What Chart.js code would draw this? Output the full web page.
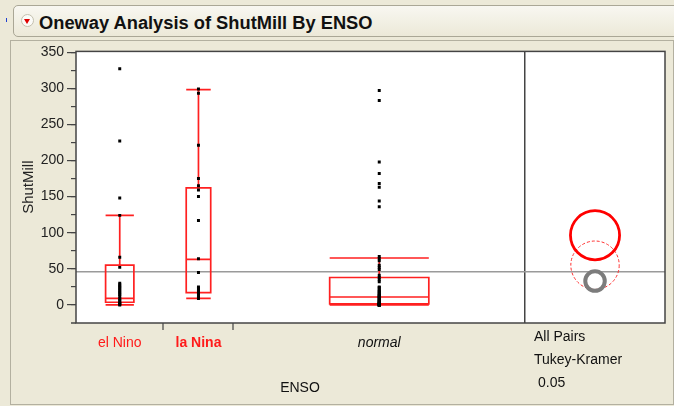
<!DOCTYPE html>
<html>
<head>
<meta charset="utf-8">
<script src="https://cdn.jsdelivr.net/npm/chart.js@4.4.1/dist/chart.umd.min.js"></script>
<style>
  body {
    margin: 0;
    width: 674px;
    height: 406px;
    overflow: hidden;
    position: relative;
    background: #ece9d8;
    font-family: "Liberation Sans", Arial, sans-serif;
    color: #111;
  }
  .abs { position: absolute; }
  #header {
    left: 13px; top: 5px; width: 700px; height: 30px;
    border: 1px solid #aaa796; border-radius: 5px;
    background: linear-gradient(#f8f7f1, #ece9d8);
  }
  #icon {
    left: 21px; top: 14px; width: 11px; height: 11px;
    border: 1px solid #c4c0ae; border-radius: 50%; background: #fbfbf8;
  }
  #icon::after {
    content: ""; position: absolute; left: 2px; top: 4px;
    border-left: 3.5px solid transparent; border-right: 3.5px solid transparent;
    border-top: 5px solid #e00000;
  }
  #blue { left: 6px; top: 18px; width: 1px; height: 4px; background: #2040d0; }
  #title { left: 39px; top: 13px; font-size: 18.3px; font-weight: bold; line-height: 20px; white-space: nowrap; }
  #panel {
    left: 10px; top: 40px; width: 662px; height: 363px;
    border: 1px solid #b3b0a0;
  }
  #wrap { left: 0; top: 40px; width: 674px; height: 366px; }
  .lbl { font-size: 14px; line-height: 16px; white-space: nowrap; }
</style>
</head>
<body>
<div id="header" class="abs"></div>
<div id="blue" class="abs"></div>
<div id="icon" class="abs"></div>
<div id="title" class="abs">Oneway Analysis of ShutMill By ENSO</div>
<div id="panel" class="abs"></div>
<div id="wrap" class="abs"><canvas id="chart"></canvas></div>
<div class="abs lbl" style="left:300px; top:379px; transform:translateX(-50%);">ENSO</div>
<div class="abs lbl" style="left:534px; top:328px;">All Pairs</div>
<div class="abs lbl" style="left:534px; top:351px;">Tukey-Kramer</div>
<div class="abs lbl" style="left:538px; top:374px;">0.05</div>
<script>
const groups = ['el Nino', 'la Nina', 'normal'];
const groupN = [15, 12, 50];

const elNino = [0, 1, 2, 3, 5, 7, 9, 12, 14, 16, 18, 20, 22, 24, 26, 28, 30, 52, 66, 124, 148, 227, 327];
const laNina = [9, 11, 13, 15, 17, 19, 21, 23, 25, 45, 64, 117, 150, 159, 165, 175, 221, 293, 299];
const normal = [297, 283, 198, 182, 168, 163, 144, 136, 67, 64, 61, 55, 52, 49, 41, 38, 35, 32,
    25, 24, 22, 20, 19, 18, 16, 15, 14, 13, 12, 11, 11, 10, 9, 8, 7, 6, 5, 5, 4, 3, 3, 2, 2,
    1, 1, 1, 0, 0, 0, 0, 0, 0];

// quantile boxes
const whiskerLow = [0, 9, 0];
const boxQ1 = [3.7, 17, 1.4];
const boxMedian = [9, 63, 11];
const boxQ3 = [55, 162, 38];
const whiskerHigh = [124, 298, 65];

// comparison circles (Tukey-Kramer)
const circleMeans = [55, 96.5, 33];
const circleRadii = [33.5, 34, 13.5];

const grandMean = 46;

const yTicks = [0, 50, 100, 150, 200, 250, 300, 350];
const yMinorTicks = [0, 25, 50, 75, 100, 125, 150, 175, 200, 225, 250, 275, 300, 325, 350];

// layout / style
const comparePanel = 24;
const boxWidth = [4.85, 4.2, 17];
const labelColors = ['#ff1a1a', '#ff1a1a', '#111'];
const circleStyles = [
    {color: '#ff3030', width: 1, dash: [3, 2]},
    {color: '#ff0000', width: 2.8, dash: []},
    {color: '#7c7c7c', width: 4, dash: []},
];
const FONT = '"Liberation Sans", Arial, sans-serif';

let bounds = [0];
groupN.forEach(n => bounds.push(bounds[bounds.length - 1] + n));
const xEnd = bounds[groupN.length] + comparePanel;
const centers = groupN.map((n, i) => bounds[i] + n / 2);
const compareX = bounds[groupN.length] + comparePanel / 2;

const jmpPlot = {
    id: 'jmpPlot',
    beforeDraw(chart) {
        const {ctx, chartArea: a} = chart;
        ctx.save();
        ctx.fillStyle = '#fff';
        ctx.fillRect(a.left, a.top, a.width, a.height);
        ctx.restore();
    },
    beforeDatasetsDraw(chart) {
        const {ctx, chartArea: a} = chart;
        const x = chart.scales.x, y = chart.scales.y;
        const py = v => y.getPixelForValue(v);
        ctx.save();
        // grand mean line
        ctx.strokeStyle = '#9a9a9a';
        ctx.lineWidth = 1.5;
        ctx.beginPath();
        ctx.moveTo(a.left, py(grandMean));
        ctx.lineTo(a.right, py(grandMean));
        ctx.stroke();
        // boxes
        ctx.strokeStyle = '#ff2020';
        ctx.lineWidth = 1.7;
        groups.forEach((g, i) => {
            const l = x.getPixelForValue(centers[i] - boxWidth[i] / 2);
            const r = x.getPixelForValue(centers[i] + boxWidth[i] / 2);
            const c = x.getPixelForValue(centers[i]);
            ctx.beginPath();
            ctx.rect(l, py(boxQ3[i]), r - l, py(boxQ1[i]) - py(boxQ3[i]));
            ctx.moveTo(l, py(boxMedian[i])); ctx.lineTo(r, py(boxMedian[i]));
            ctx.moveTo(c, py(boxQ3[i])); ctx.lineTo(c, py(whiskerHigh[i]));
            ctx.moveTo(c, py(boxQ1[i])); ctx.lineTo(c, py(whiskerLow[i]));
            ctx.moveTo(l, py(whiskerHigh[i])); ctx.lineTo(r, py(whiskerHigh[i]));
            ctx.moveTo(l, py(whiskerLow[i])); ctx.lineTo(r, py(whiskerLow[i]));
            ctx.stroke();
        });
        ctx.restore();
    },
    afterDatasetsDraw(chart) {
        const {ctx, chartArea: a} = chart;
        const x = chart.scales.x, y = chart.scales.y;
        ctx.save();
        // comparison circles
        const cx = x.getPixelForValue(compareX);
        circleMeans.forEach((m, i) => {
            const cy = y.getPixelForValue(m);
            const rad = Math.abs(y.getPixelForValue(m + circleRadii[i]) - cy);
            ctx.strokeStyle = circleStyles[i].color;
            ctx.lineWidth = circleStyles[i].width;
            ctx.setLineDash(circleStyles[i].dash);
            ctx.beginPath();
            ctx.arc(cx, cy, rad, 0, Math.PI * 2);
            ctx.stroke();
        });
        ctx.setLineDash([]);
        // frame
        ctx.strokeStyle = '#444';
        ctx.lineWidth = 1.5;
        ctx.strokeRect(a.left, a.top, a.width, a.height);
        ctx.beginPath();
        ctx.moveTo(a.left - 5, a.bottom);
        ctx.lineTo(a.left, a.bottom);
        ctx.stroke();
        ctx.restore();
    }
};

function pointSet(values, i) {
    return {
        type: 'scatter',
        data: values.map(v => ({x: centers[i], y: v})),
        pointStyle: 'rect',
        pointRadius: 2.1,
        pointHoverRadius: 2.1,
        backgroundColor: '#000',
        borderColor: '#000',
        borderWidth: 0,
    };
}

new Chart(document.getElementById('chart'), {
    type: 'scatter',
    data: {
        datasets: [pointSet(elNino, 0), pointSet(laNina, 1), pointSet(normal, 2)]
    },
    options: {
        responsive: true,
        maintainAspectRatio: false,
        animation: false,
        events: [],
        layout: {padding: {top: 10, right: 9, left: 0, bottom: 0}},
        plugins: {legend: {display: false}, tooltip: {enabled: false}},
        scales: {
            x: {
                type: 'linear',
                position: 'bottom',
                weight: 0,
                min: 0,
                max: xEnd,
                afterBuildTicks: s => { s.ticks = bounds.slice(1).map(v => ({value: v})); },
                afterFit: s => { s.height = 7; },
                ticks: {display: false},
                border: {display: false},
                grid: {
                    drawOnChartArea: true,
                    tickLength: 7,
                    color: '#444',
                    lineWidth: c => (c.tick && c.tick.value === bounds[groupN.length]) ? 1.5 : 0,
                    tickWidth: 1.2,
                    tickColor: c => (c.tick && c.tick.value === bounds[groupN.length]) ? 'rgba(0,0,0,0)' : '#444',
                }
            },
            x2: {
                type: 'linear',
                position: 'bottom',
                weight: 1,
                min: 0,
                max: xEnd,
                afterBuildTicks: s => { s.ticks = centers.map(v => ({value: v})); },
                afterFit: s => { s.height = 76; },
                border: {display: false},
                grid: {display: false, drawTicks: false},
                ticks: {
                    padding: 5,
                    maxRotation: 0,
                    autoSkip: false,
                    callback: (v, i) => groups[i],
                    color: c => labelColors[c.index],
                    font: c => ({
                        family: FONT,
                        size: 14,
                        weight: c.index === 1 ? 'bold' : 'normal',
                        style: c.index === 2 ? 'italic' : 'normal',
                    }),
                }
            },
            y: {
                type: 'linear',
                position: 'left',
                weight: 1,
                min: -25,
                max: 351,
                afterBuildTicks: s => { s.ticks = yTicks.map(v => ({value: v})); },
                afterFit: s => { s.width = 76; },
                border: {display: false},
                grid: {drawOnChartArea: false, tickLength: 9, color: '#444', lineWidth: 1.2},
                ticks: {
                    padding: 3,
                    color: '#222',
                    font: {family: FONT, size: 14},
                },
                title: {
                    display: true,
                    text: 'ShutMill',
                    color: '#222',
                    font: {family: FONT, size: 15},
                    padding: {top: 20, bottom: 0},
                }
            },
            yMinor: {
                type: 'linear',
                position: 'left',
                weight: 0,
                min: -25,
                max: 351,
                afterBuildTicks: s => { s.ticks = yMinorTicks.map(v => ({value: v})); },
                afterFit: s => { s.width = 0; },
                border: {display: false},
                grid: {drawOnChartArea: false, tickLength: 5, color: '#444', lineWidth: 1.2},
                ticks: {display: false},
            }
        }
    },
    plugins: [jmpPlot]
});
</script>
</body>
</html>
